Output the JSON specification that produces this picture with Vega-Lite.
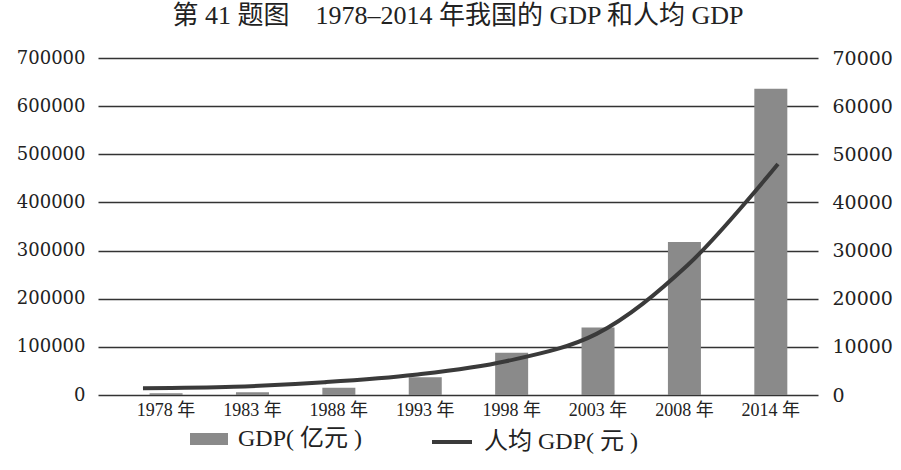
{
  "$schema": "https://vega.github.io/schema/vega-lite/v6.json",
  "autosize": {"type": "none"},
  "width": 720,
  "height": 337,
  "padding": {"left": 98, "top": 58, "right": 83, "bottom": 75},
  "background": "white",
  "config": {
    "view": {"stroke": null},
    "font": "Liberation Serif, Noto Sans CJK SC",
    "axis": {"labelFont": "DejaVu Serif, Noto Sans CJK SC", "labelColor": "#222222"},
    "legend": {"labelFont": "Liberation Serif, Noto Sans CJK SC", "labelColor": "#222222"}
  },
  "title": {
    "text": "第 41 题图　1978–2014 年我国的 GDP 和人均 GDP",
    "fontSize": 26,
    "fontWeight": "normal",
    "font": "Liberation Serif, Noto Sans CJK SC",
    "color": "#222222",
    "anchor": "middle",
    "offset": 20
  },
  "data": {
    "values": [
      {"year": "1978", "gdp": 3645, "pc": 1400},
      {"year": "1983", "gdp": 5963, "pc": 1700},
      {"year": "1988", "gdp": 15180, "pc": 2650},
      {"year": "1993", "gdp": 37000, "pc": 4200},
      {"year": "1998", "gdp": 88000, "pc": 7000},
      {"year": "2003", "gdp": 140000, "pc": 12700},
      {"year": "2008", "gdp": 318000, "pc": 26900},
      {"year": "2014", "gdp": 636000, "pc": 48000}
    ]
  },
  "layer": [
    {
      "mark": {"type": "bar"},
      "encoding": {
        "x": {
          "field": "year", "type": "ordinal",
          "scale": {"paddingInner": 0.618, "paddingOuter": 0.476, "align": 0.627},
          "axis": {"title": null, "domain": false, "ticks": false, "labelAngle": 0, "labelFont": "Liberation Serif, Noto Sans CJK SC", "labelFontSize": 18, "labelPadding": 6, "labelExpr": "datum.label + ' 年'"}
        },
        "y": {
          "field": "gdp", "type": "quantitative",
          "scale": {"domain": [0, 700000], "nice": false},
          "axis": {"title": null, "orient": "left", "values": [0, 100000, 200000, 300000, 400000, 500000, 600000, 700000], "format": "d", "domain": false, "ticks": false, "labelFontSize": 18, "labelPadding": 13, "grid": true, "gridColor": "#333333", "gridWidth": 1.3, "gridOpacity": 1}
        },
        "fill": {
          "datum": "GDP( 亿元 )",
          "scale": {"range": ["#8a8a8a"]},
          "legend": {"title": null, "orient": "none", "legendX": 92, "legendY": 362, "symbolType": "M-1,-0.32H1V0.32H-1Z", "symbolSize": 1444, "symbolStrokeWidth": 0, "labelFontSize": 24, "labelOffset": 10}
        }
      }
    },
    {
      "mark": {"type": "line", "interpolate": "catmull-rom", "strokeWidth": 4},
      "encoding": {
        "x": {
          "field": "year", "type": "ordinal",
          "scale": {"type": "point", "padding": 0.4686, "align": 0.529},
          "axis": null
        },
        "y": {
          "field": "pc", "type": "quantitative",
          "scale": {"domain": [0, 70000], "nice": false},
          "axis": {"title": null, "orient": "right", "values": [0, 10000, 20000, 30000, 40000, 50000, 60000, 70000], "format": "d", "domain": false, "ticks": false, "grid": false, "labelFontSize": 19, "labelPadding": 14}
        },
        "stroke": {
          "datum": "人均 GDP( 元 )",
          "scale": {"range": ["#3a3a3a"]},
          "legend": {"title": null, "orient": "none", "legendX": 332, "legendY": 362, "symbolType": "stroke", "symbolSize": 1600, "symbolStrokeWidth": 4, "labelFontSize": 24, "labelOffset": 10}
        }
      }
    }
  ],
  "resolve": {"scale": {"x": "independent", "y": "independent"}}
}
